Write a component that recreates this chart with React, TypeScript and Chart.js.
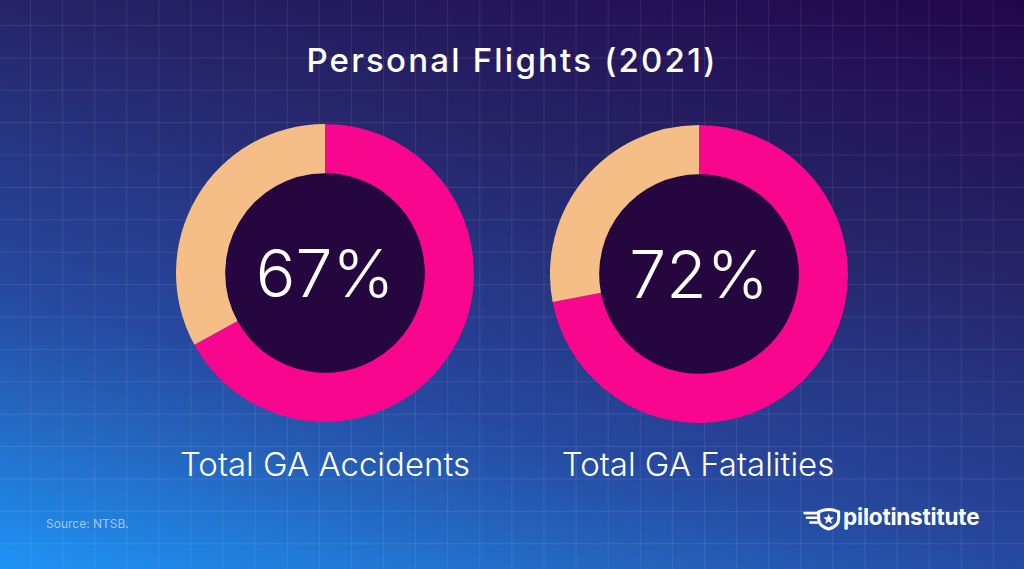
import React, { useEffect, useRef } from "react";
import { Chart, registerables } from "chart.js";

Chart.register(...registerables);

const categories = ["Personal flights", "Other flights"];
const accidentsValues = [67, 33];
const fatalitiesValues = [72, 28];
const chartLabels = ["Total GA Accidents", "Total GA Fatalities"];
const titleText = "Personal Flights (2021)";
const sourceText = "Source: NTSB.";
const brandText = "pilotinstitute";

const PINK = "#f8068e";
const PEACH = "#f5be86";
const HOLE = "#25063f";
const FONT = "Inter, 'Noto Sans', sans-serif";

const centerPlugin = {
  id: "centerHole",
  beforeDatasetsDraw(chart: any) {
    const arc = chart.getDatasetMeta(0).data[0];
    if (!arc) return;
    const { x, y, innerRadius } = arc.getProps(["x", "y", "innerRadius"], true);
    const ctx = chart.ctx;
    ctx.save();
    ctx.beginPath();
    ctx.arc(x, y, innerRadius + 0.5, 0, Math.PI * 2);
    ctx.fillStyle = HOLE;
    ctx.fill();
    ctx.restore();
  },
  afterDatasetsDraw(chart: any) {
    const arc = chart.getDatasetMeta(0).data[0];
    if (!arc) return;
    const { x, y } = arc.getProps(["x", "y"], true);
    const v = chart.data.datasets[0].data[0];
    const ctx = chart.ctx;
    ctx.save();
    ctx.fillStyle = "#ffffff";
    ctx.font = `300 66px ${FONT}`;
    ctx.textAlign = "center";
    ctx.textBaseline = "alphabetic";
    ctx.fillText(`${v}%`, x, y + 23.8);
    ctx.restore();
  },
};

function Donut({ values, left, top }: { values: number[]; left: number; top: number }) {
  const ref = useRef<HTMLCanvasElement | null>(null);
  useEffect(() => {
    if (!ref.current) return;
    const chart = new Chart(ref.current, {
      type: "doughnut",
      data: {
        labels: categories,
        datasets: [
          {
            data: values,
            backgroundColor: [PINK, PEACH],
            borderWidth: 0,
          },
        ],
      },
      options: {
        responsive: false,
        animation: false,
        cutout: "67%",
        layout: { padding: 0 },
        plugins: {
          legend: { display: false },
          tooltip: { enabled: false },
        },
      },
      plugins: [centerPlugin],
    });
    return () => chart.destroy();
  }, [values]);
  return (
    <canvas
      ref={ref}
      width={298}
      height={298}
      style={{ position: "absolute", left, top, width: 298, height: 298 }}
    />
  );
}

function Logo() {
  return (
    <svg
      width={40}
      height={24}
      viewBox="0 0 34 20"
      style={{ position: "absolute", left: 801, top: 507 }}
    >
      <g stroke="#fff" strokeLinecap="round" strokeWidth={2.2} fill="none">
        <line x1={3} y1={5} x2={15} y2={5} />
        <line x1={5} y1={9} x2={14} y2={9} />
        <line x1={8} y1={13} x2={15} y2={13} />
        <path d="M15 4 Q24 0 32 4 L32 10 Q32 16 23.5 18.5 Q15 16 15 10 Z" strokeWidth={2.6} />
      </g>
      <polygon
        fill="#fff"
        points="23.5,5.3 24.7,8.6 28.1,8.7 25.4,10.8 26.4,14.1 23.5,12.1 20.6,14.1 21.6,10.8 18.9,8.7 22.3,8.6"
      />
    </svg>
  );
}

export default function App() {
  const textBase: React.CSSProperties = {
    position: "absolute",
    fontFamily: FONT,
    color: "#ffffff",
    whiteSpace: "nowrap",
    margin: 0,
  };
  return (
    <div
      style={{
        position: "fixed",
        left: 0,
        top: 0,
        width: 1024,
        height: 569,
        overflow: "hidden",
        backgroundColor: "#25246a",
        backgroundImage:
          "linear-gradient(to right, rgba(255,255,255,0.085) 1.2px, transparent 1.2px)," +
          "linear-gradient(to bottom, rgba(255,255,255,0.085) 1.2px, transparent 1.2px)," +
          "linear-gradient(15deg, #1e94f6 0%, #2560b8 22%, #2649a0 33%, #262468 67%, #22064a 100%)",
        backgroundSize: "32.1px 32.4px, 32.1px 32.4px, 100% 100%",
        backgroundPosition: "30px 25px, 30px 25px, 0 0",
      }}
    >
      <div
        style={{
          ...textBase,
          left: 0,
          width: 1024,
          top: 44,
          textAlign: "center",
          fontSize: 33,
          lineHeight: "33px",
          fontWeight: 500,
          letterSpacing: 2.2,
        }}
      >
        {titleText}
      </div>

      <Donut values={accidentsValues} left={176} top={124} />
      <Donut values={fatalitiesValues} left={550} top={125} />

      {chartLabels.map((lbl, i) => (
        <div
          key={lbl}
          style={{
            ...textBase,
            left: (i === 0 ? 325 : 698) - 200,
            width: 400,
            top: 448,
            textAlign: "center",
            fontSize: 33,
            lineHeight: "33px",
            fontWeight: 300,
          }}
        >
          {lbl}
        </div>
      ))}

      <div
        style={{
          ...textBase,
          left: 46,
          top: 518,
          fontSize: 12,
          lineHeight: "12px",
          color: "rgba(200,220,250,0.8)",
        }}
      >
        {sourceText}
      </div>

      <Logo />
      <div
        style={{
          ...textBase,
          left: 843,
          top: 506,
          fontSize: 22.5,
          lineHeight: "22.5px",
          fontWeight: 700,
          letterSpacing: -0.2,
        }}
      >
        {brandText}
      </div>
    </div>
  );
}
